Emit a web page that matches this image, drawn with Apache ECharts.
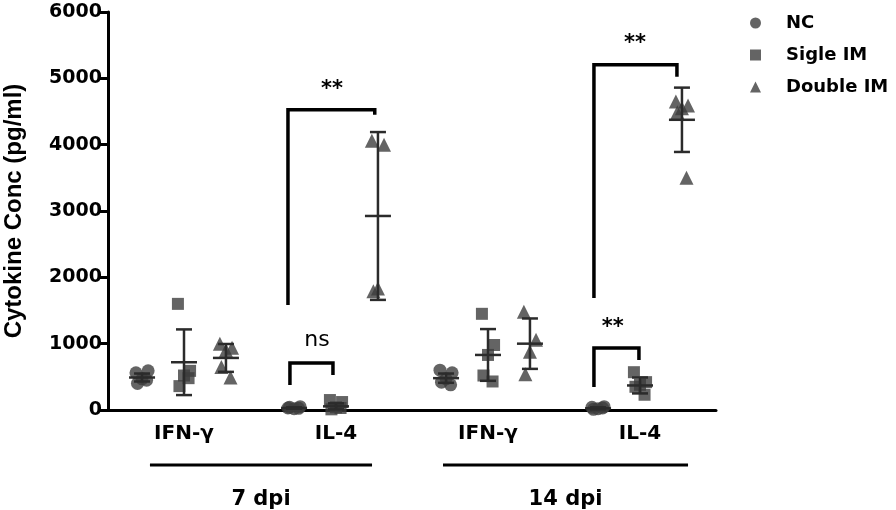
<!DOCTYPE html>
<html>
<head>
<meta charset="utf-8">
<script src="https://cdn.jsdelivr.net/npm/echarts@6/dist/echarts.min.js"></script>
<style>
  html, body { margin: 0; padding: 0; background: #fff; }
  #chart { width: 896px; height: 510px; }
</style>
</head>
<body>
<div id="chart"></div>
<script>
  // categories on the x axis, two per time point
  const categories = ['IFN-γ', 'IL-4', 'IFN-γ', 'IL-4'];
  const periods = ['7 dpi', '14 dpi'];
  const groupNames = ['NC', 'Sigle IM', 'Double IM'];
  const yTicks = [0, 1000, 2000, 3000, 4000, 5000, 6000];

  // individual points (pg/ml), one list per category
  const ncValues = [
    [560, 590, 470, 400, 450],
    [30, 50, 20, 40, 25],
    [600, 560, 470, 420, 380],
    [40, 50, 20, 10, 30]
  ];
  const sigleValues = [
    [1600, 590, 520, 360, 480],
    [150, 120, 40, 10, 30],
    [1450, 980, 830, 520, 430],
    [570, 420, 380, 350, 230]
  ];
  const doubleValues = [
    [1000, 940, 900, 650, 490],
    [4060, 4000, 1830, 1790],
    [1480, 1060, 880, 540],
    [4650, 4590, 4550, 4490, 3500]
  ];

  // mean and SD
  const ncMean = [490, 30, 480, 25];
  const ncSd = [60, 10, 70, 15];
  const sigleMean = [720, 55, 830, 370];
  const sigleSd = [495, 45, 390, 120];
  const doubleMean = [785, 2925, 1000, 4375];
  const doubleSd = [210, 1265, 380, 485];

  // significance brackets: [x left, y left end, x right, y right end, y top]
  const brackets = [
    [1.184, 1584, 1.755, 4450, 4525],
    [1.197, 377, 1.480, 528, 709],
    [3.197, 1689, 3.743, 5023, 5204],
    [3.197, 347, 3.493, 754, 935]
  ];
  const bracketLabels = [
    [1.474, 4830, '**'],
    [1.375, 1056, 'ns'],
    [3.467, 5520, '**'],
    [3.320, 1250, '**']
  ];
  // underline spans for time points: [x from, x to]
  const periodSpans = [[0.276, 1.737], [2.204, 3.816]];

  const offsets = [-0.276, 0, 0.276];
  const jitter = [-0.04, 0.04, 0, -0.03, 0.03];
  const symbols = ['circle', 'rect', 'triangle'];
  const markColor = '#3d3d3d';

  function pointsFor(values, g) {
    let out = [];
    values.forEach(function (list, i) {
      list.forEach(function (v, k) {
        out.push([i + 0.5 + offsets[g] + jitter[k], v]);
      });
    });
    return out;
  }

  function statsFor(means, sds, g) {
    return means.map(function (m, i) { return [i + 0.5 + offsets[g], m, sds[i]]; });
  }

  const lineStyle = { stroke: '#2b2b2b', lineWidth: 2.5 };

  function renderErr(params, api) {
    const x = api.value(0), m = api.value(1), s = api.value(2);
    const c = api.coord([x, m]);
    const t = api.coord([x, m + s]);
    const b = api.coord([x, Math.max(m - s, 0)]);
    return {
      type: 'group',
      children: [
        { type: 'line', shape: { x1: c[0] - 13, y1: c[1], x2: c[0] + 13, y2: c[1] }, style: lineStyle },
        { type: 'line', shape: { x1: t[0], y1: t[1], x2: b[0], y2: b[1] }, style: lineStyle },
        { type: 'line', shape: { x1: t[0] - 8, y1: t[1], x2: t[0] + 8, y2: t[1] }, style: lineStyle },
        { type: 'line', shape: { x1: b[0] - 8, y1: b[1], x2: b[0] + 8, y2: b[1] }, style: lineStyle }
      ]
    };
  }

  function renderBracket(params, api) {
    const a = api.coord([api.value(0), api.value(1)]);
    const b = api.coord([api.value(0), api.value(4)]);
    const c = api.coord([api.value(2), api.value(4)]);
    const d = api.coord([api.value(2), api.value(3)]);
    return {
      type: 'polyline',
      shape: { points: [a, b, c, d] },
      style: { stroke: '#000', lineWidth: 3.5, fill: null }
    };
  }

  function renderBracketLabel(params, api) {
    const p = api.coord([api.value(0), api.value(1)]);
    const txt = bracketLabels[params.dataIndex][2];
    return {
      type: 'text', x: p[0], y: p[1],
      style: {
        text: txt, fill: '#000', align: 'center', verticalAlign: 'middle',
        font: (txt === 'ns' ? 'normal 22px' : 'bold 21px') + ' "DejaVu Sans"'
      }
    };
  }

  function renderPeriod(params, api) {
    const l = api.coord([api.value(0), 0]);
    const r = api.coord([api.value(1), 0]);
    return {
      type: 'group',
      children: [
        { type: 'line', shape: { x1: l[0], y1: l[1] + 55, x2: r[0], y2: r[1] + 55 }, style: { stroke: '#000', lineWidth: 3 } },
        { type: 'text', x: (l[0] + r[0]) / 2, y: l[1] + 90,
          style: { text: periods[params.dataIndex], fill: '#000', align: 'center', verticalAlign: 'middle',
                   font: 'bold 21px "DejaVu Sans"' } }
      ]
    };
  }

  const sizes = [13, 12, 14];
  const scatterSeries = [ncValues, sigleValues, doubleValues].map(function (vals, g) {
    return {
      name: groupNames[g],
      type: 'scatter',
      xAxisIndex: 1,
      symbol: symbols[g],
      symbolSize: sizes[g],
      itemStyle: { color: markColor },
      data: pointsFor(vals, g),
      z: 3
    };
  });

  const errSeries = [[ncMean, ncSd], [sigleMean, sigleSd], [doubleMean, doubleSd]].map(function (ms, g) {
    return {
      type: 'custom',
      xAxisIndex: 1,
      renderItem: renderErr,
      encode: { x: 0, y: 1 },
      data: statsFor(ms[0], ms[1], g),
      z: 4
    };
  });

  const chart = echarts.init(document.getElementById('chart'));
  chart.setOption({
    animation: false,
    textStyle: { fontFamily: '"DejaVu Sans"' },
    grid: { left: 108, right: 180, top: 12, bottom: 100, containLabel: false, outerBoundsMode: 'none' },
    legend: {
      orient: 'vertical',
      left: 745,
      top: 9,
      itemWidth: 11,
      itemHeight: 11,
      itemGap: 14,
      data: groupNames.map(function (n, g) { return { name: n, icon: symbols[g] }; }),
      textStyle: { fontFamily: '"DejaVu Sans"', fontWeight: 'bold', fontSize: 18, color: '#000', padding: [0, 0, 0, 20] }
    },
    xAxis: [
      {
        type: 'category',
        data: categories,
        axisLine: { lineStyle: { color: '#000', width: 3 } },
        axisTick: { alignWithLabel: true, length: 8, lineStyle: { color: '#000', width: 3 } },
        axisLabel: { color: '#000', fontWeight: 'bold', fontSize: 20, margin: 14, fontFamily: '"DejaVu Sans"' },
        splitLine: { show: false }
      },
      { type: 'value', min: 0, max: 4, show: false }
    ],
    yAxis: {
      type: 'value',
      min: yTicks[0],
      max: yTicks[yTicks.length - 1],
      interval: 1000,
      name: 'Cytokine Conc (pg/ml)',
      nameLocation: 'middle',
      nameGap: 82,
      nameTextStyle: { color: '#000', fontSize: 24, fontWeight: 'bold', fontFamily: '"Liberation Sans"' },
      axisLine: { show: true, lineStyle: { color: '#000', width: 3 } },
      axisTick: { show: true, length: 9, lineStyle: { color: '#000', width: 3 } },
      axisLabel: { color: '#000', fontWeight: 'bold', fontSize: 19, margin: 6, fontFamily: '"DejaVu Sans"',
                   formatter: function (v) { return String(v); } },
      splitLine: { show: false }
    },
    series: scatterSeries.concat(errSeries).concat([
      { type: 'custom', xAxisIndex: 1, renderItem: renderBracket, encode: { x: [0, 2], y: [1, 3, 4] }, data: brackets, z: 5 },
      { type: 'custom', xAxisIndex: 1, renderItem: renderBracketLabel, encode: { x: 0, y: 1 },
        data: bracketLabels.map(function (b) { return [b[0], b[1]]; }), z: 5 },
      { type: 'custom', xAxisIndex: 1, renderItem: renderPeriod, clip: false, encode: { x: [0, 1] },
        data: periodSpans, z: 5 }
    ])
  });
</script>
</body>
</html>
